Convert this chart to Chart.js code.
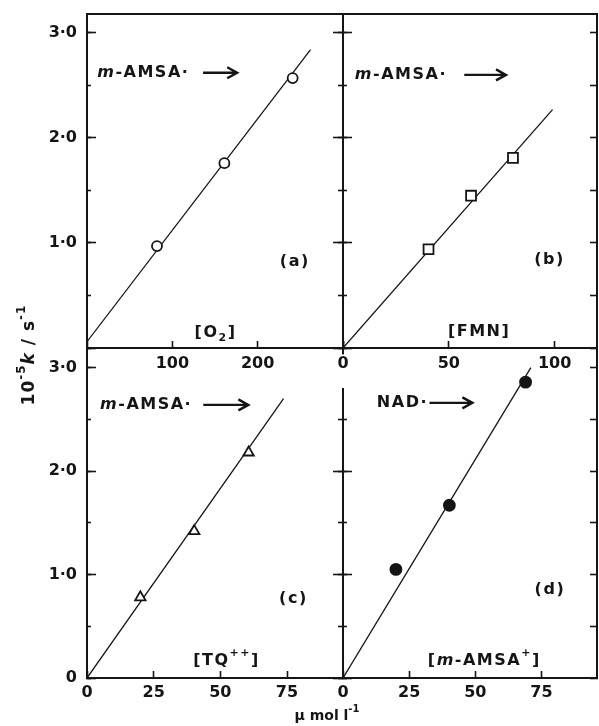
<!DOCTYPE html>
<html>
<head>
<meta charset="utf-8">
<script src="https://cdn.jsdelivr.net/npm/chart.js@4.4.1/dist/chart.umd.min.js"></script>
<style>
html, body { margin: 0; padding: 0; background: #fff; }
#wrap { position: relative; width: 599px; height: 726px; }
#wrap canvas { position: absolute; left: 0; top: 0; }
</style>
</head>
<body>
<div id="wrap">
<canvas id="pa" width="599" height="726"></canvas>
<canvas id="pc" width="599" height="726"></canvas>
<canvas id="pd" width="599" height="726"></canvas>
<canvas id="pb" width="599" height="726"></canvas>
</div>
<script>
// (a) m-AMSA. + O2
var o2Conc = [82, 161, 241];
var o2Rate = [0.97, 1.76, 2.57];
var o2LineX = [0, 262];
var o2LineY = [0.06, 2.84];

// (b) m-AMSA. + FMN
var fmnConc = [40.4, 60.5, 80.3];
var fmnRate = [0.94, 1.45, 1.81];
var fmnLineX = [0, 99];
var fmnLineY = [0, 2.27];

// (c) m-AMSA. + TQ++
var tqConc = [20, 40.2, 60.6];
var tqRate = [0.78, 1.42, 2.18];
var tqLineX = [0, 73.7];
var tqLineY = [0, 2.70];

// (d) NAD. + m-AMSA+
var amsaConc = [20, 40.2, 69];
var amsaRate = [1.05, 1.67, 2.86];
var amsaLineX = [0, 71];
var amsaLineY = [0, 3.0];

var ink = '#151515';
var fam = '"DejaVu Sans", sans-serif';
var tickFont = {family: fam, size: 16, weight: 'bold'};
var LABW = 60, LABH = 40;

function pts(xs, ys) {
	return xs.map(function(x, i) { return {x: x, y: ys[i]}; });
}

function decLabel(showZero) {
	return function(v) {
		if (v === 0) return showZero ? '0' : '';
		return v.toFixed(1).replace('.', '\u00b7');
	};
}

// one axis: tick < 0 means tick marks pointing into the plot
// axes without labels get zero size so they all sit on the plot edge
function axis(o) {
	return {
		type: 'linear', axis: o.axis, position: o.pos, min: o.min, max: o.max, weight: o.label ? 1 : 0,
		border: {display: !!o.border, color: ink, width: 2},
		grid: {drawOnChartArea: false, drawTicks: o.tick !== 0, tickLength: o.tick || 0, tickColor: ink, tickWidth: 1.6},
		ticks: {
			stepSize: o.step, includeBounds: false, autoSkip: false, maxRotation: 0,
			display: !!o.label, callback: o.label || function() { return ''; },
			padding: o.pad || 0, color: ink, font: tickFont,
			showLabelBackdrop: o.gapAtZero ? function(c) { return c.tick && c.tick.value === 0; } : false,
			backdropColor: '#fff',
			backdropPadding: {top: 0, bottom: 18, left: 8, right: 8}
		},
		afterFit: function(s) {
			if (s.isHorizontal()) s.height = o.label ? LABH : 0;
			else s.width = o.label ? LABW : 0;
			s.paddingLeft = s.paddingRight = s.paddingTop = s.paddingBottom = 0;
		}
	};
}

function runFont(r, size) {
	var s = (r.sup || r.sub) ? Math.round(size * 0.68) : size;
	return (r.it ? 'italic ' : '') + 'bold ' + s + 'px ' + fam;
}

function drawRuns(ctx, runs, x, y, size, align) {
	ctx.textBaseline = 'middle';
	ctx.textAlign = 'left';
	var w = 0;
	runs.forEach(function(r) { ctx.font = runFont(r, size); w += ctx.measureText(r.t).width; });
	var cx = align === 'center' ? x - w / 2 : x;
	runs.forEach(function(r) {
		ctx.font = runFont(r, size);
		var dy = r.sup ? -size * 0.45 : (r.sub ? size * 0.28 : 0);
		ctx.fillText(r.t, cx, y + dy);
		cx += ctx.measureText(r.t).width;
	});
}

function notesPlugin(notes) {
	return {
		id: 'notes',
		afterDatasetsDraw: function(chart) {
			var ctx = chart.ctx, sx = chart.scales.x, sy = chart.scales.y;
			ctx.save();
			ctx.fillStyle = ink;
			ctx.strokeStyle = ink;
			ctx.letterSpacing = '1.5px';
			notes.forEach(function(n) {
				var py = sy.getPixelForValue(n.y);
				drawRuns(ctx, n.runs, sx.getPixelForValue(n.x), py, 16, n.align || 'left');
				if (n.arrow) {
					var x1 = sx.getPixelForValue(n.arrow[0]), x2 = sx.getPixelForValue(n.arrow[1]);
					ctx.lineWidth = 2.4;
					ctx.beginPath();
					ctx.moveTo(x1, py); ctx.lineTo(x2, py);
					ctx.moveTo(x2 - 10, py - 5.5); ctx.lineTo(x2, py); ctx.lineTo(x2 - 10, py + 5.5);
					ctx.stroke();
				}
			});
			ctx.restore();
		}
	};
}

var titlePlugin = {
	id: 'titles',
	afterDraw: function(chart) {
		var ctx = chart.ctx;
		ctx.save();
		ctx.fillStyle = ink;
		ctx.letterSpacing = '1px';
		ctx.translate(30, 355);
		ctx.rotate(-Math.PI / 2);
		drawRuns(ctx, [{t: '10'}, {t: '-5', sup: true}, {t: 'k', it: true}, {t: ' / s'}, {t: '-1', sup: true}], 0, 0, 17, 'center');
		ctx.restore();
		ctx.save();
		ctx.fillStyle = ink;
		drawRuns(ctx, [{t: '\u03bc mol l'}, {t: '-1', sup: true}], 327, 716, 14, 'center');
		ctx.restore();
	}
};

function makePanel(id, p) {
	var a = p.area;
	var scales = {
		x: axis({axis: 'x', pos: 'bottom', min: 0, max: p.xMax, step: p.xStep, tick: -7, label: p.xLabel, pad: p.xPad, border: true, gapAtZero: p.gapAtZero}),
		xTop: axis({axis: 'x', pos: 'top', min: 0, max: p.xMax, step: p.xStep, tick: 0, border: true}),
		y: axis({axis: 'y', pos: 'left', min: 0, max: p.yMax, step: 1, tick: -9, label: p.yLabel, pad: 19, border: true}),
		yMinor: axis({axis: 'y', pos: 'left', min: 0, max: p.yMax, step: 0.5, tick: -4}),
		yRight: axis({axis: 'y', pos: 'right', min: 0, max: p.yMax, step: 0.5, tick: p.right ? -7 : 0, border: true})
	};
	if (p.right) {
		scales.yOut = axis({axis: 'y', pos: 'left', min: 0, max: p.yMax, step: 1, tick: 10});
		scales.yMinorOut = axis({axis: 'y', pos: 'left', min: 0, max: p.yMax, step: 0.5, tick: 5});
	}
	var plugins = [notesPlugin(p.notes)];
	if (p.titles) plugins.push(titlePlugin);
	return new Chart(document.getElementById(id), {
		type: 'scatter',
		data: {
			datasets: [{
				data: pts(p.lineX, p.lineY), showLine: true, pointRadius: 0,
				borderColor: ink, borderWidth: 1.3, order: 2
			}, {
				data: pts(p.conc, p.rate), showLine: false, pointStyle: p.style, pointRadius: p.r,
				backgroundColor: p.fill, borderColor: ink, borderWidth: 1.8, order: 1
			}]
		},
		options: {
			responsive: false, animation: false, devicePixelRatio: 1, events: [],
			layout: {autoPadding: false, padding: {
				left: a.l - (p.yLabel ? LABW : 0), top: a.t, right: 599 - a.r, bottom: 726 - a.b - LABH
			}},
			plugins: {legend: {display: false}, tooltip: {enabled: false}},
			scales: scales
		},
		plugins: plugins
	});
}

var amsaRun = [{t: 'm', it: true}, {t: '-AMSA\u00b7'}];

makePanel('pa', {
	area: {l: 87, r: 343, t: 14, b: 348},
	xMax: 300, xStep: 100, xPad: 13.4, yMax: 3.18,
	xLabel: function(v) { return (v === 0 || v === 300) ? '' : String(v); },
	yLabel: decLabel(false),
	conc: o2Conc, rate: o2Rate, lineX: o2LineX, lineY: o2LineY,
	style: 'circle', r: 5, fill: '#fff',
	notes: [
		{x: 12, y: 2.62, runs: amsaRun, arrow: [136, 176]},
		{x: 243.5, y: 0.82, runs: [{t: '(a)'}], align: 'center'},
		{x: 150.6, y: 0.14, runs: [{t: '[O'}, {t: '2', sub: true}, {t: ']'}], align: 'center'}
	]
});

makePanel('pc', {
	area: {l: 87, r: 343, t: 348, b: 678},
	xMax: 96, xStep: 25, xPad: 12.4, yMax: 3.19, titles: true,
	xLabel: function(v) { return String(v); },
	yLabel: decLabel(true),
	conc: tqConc, rate: tqRate, lineX: tqLineX, lineY: tqLineY,
	style: 'triangle', r: 6, fill: '#fff',
	notes: [
		{x: 4.9, y: 2.64, runs: amsaRun, arrow: [43.6, 60.5]},
		{x: 77.4, y: 0.77, runs: [{t: '(c)'}], align: 'center'},
		{x: 52.3, y: 0.17, runs: [{t: '[TQ'}, {t: '++', sup: true}, {t: ']'}], align: 'center'}
	]
});

makePanel('pd', {
	area: {l: 343, r: 597, t: 348, b: 678},
	xMax: 96, xStep: 25, xPad: 12.4, yMax: 3.19, right: true,
	xLabel: function(v) { return String(v); },
	yLabel: null,
	conc: amsaConc, rate: amsaRate, lineX: amsaLineX, lineY: amsaLineY,
	style: 'circle', r: 5.5, fill: ink,
	notes: [
		{x: 12.8, y: 2.66, runs: [{t: 'NAD\u00b7'}], arrow: [32.7, 48.9]},
		{x: 78.2, y: 0.85, runs: [{t: '(d)'}], align: 'center'},
		{x: 53.4, y: 0.17, runs: [{t: '['}, {t: 'm', it: true}, {t: '-AMSA'}, {t: '+', sup: true}, {t: ']'}], align: 'center'}
	]
});

// drawn last so its "0" label can break the axis of (d) like the original
makePanel('pb', {
	area: {l: 343, r: 597, t: 14, b: 348},
	xMax: 120, xStep: 50, xPad: 13.4, yMax: 3.18, right: true, gapAtZero: true,
	xLabel: function(v) { return String(v); },
	yLabel: null,
	conc: fmnConc, rate: fmnRate, lineX: fmnLineX, lineY: fmnLineY,
	style: 'rect', r: 7, fill: '#fff',
	notes: [
		{x: 5.6, y: 2.6, runs: amsaRun, arrow: [57.3, 77]},
		{x: 97.6, y: 0.84, runs: [{t: '(b)'}], align: 'center'},
		{x: 64.3, y: 0.15, runs: [{t: '[FMN]'}], align: 'center'}
	]
});
</script>
</body>
</html>
